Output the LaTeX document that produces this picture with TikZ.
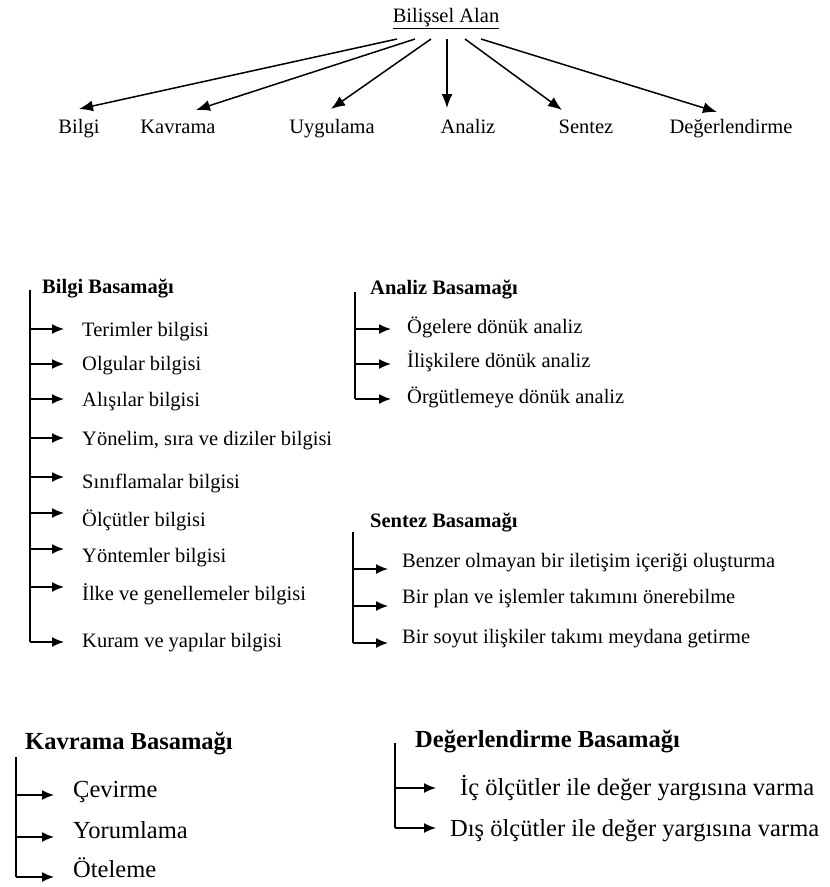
\documentclass[tikz,border=0pt]{standalone}
\usepackage{fontspec}
\setmainfont{Liberation Serif}
\usetikzlibrary{arrows.meta}
\begin{document}
\begin{tikzpicture}[x=1pt,y=-1pt,
  arr/.style={-{Latex[length=12pt,width=10pt]}, line width=1.4pt},
  tarr/.style={-{Latex[length=14pt,width=11pt]}, line width=1.5pt},
  ln/.style={line width=1.4pt},
  txt/.style={inner sep=0pt, font=\fontsize{20.5}{24}\selectfont},
  hdr/.style={inner sep=0pt, font=\fontsize{20.5}{24}\selectfont\bfseries},
  btxt/.style={inner sep=0pt, font=\fontsize{24.5}{28}\selectfont},
  bhdr/.style={inner sep=0pt, font=\fontsize{24.5}{28}\selectfont\bfseries},
]
\useasboundingbox[fill=white] (0,0) rectangle (830,887);

% ---------- top tree ----------
\node[txt, anchor=base] (root) at (446,22) {\underline{Bilişsel Alan}};
\foreach \n/\sx/\hx/\hy/\lx/\t in {1/397/79/109/79/Bilgi, 2/415/196/110/178/Kavrama, 3/431/331/109/332/Uygulama, 4/447/447/108/468/Analiz, 5/465/562/110/586/Sentez, 6/481/717/112/731/Değerlendirme}{
  \coordinate (s\n) at (\sx,39);
  \coordinate (h\n) at (\hx,\hy);
  \node[txt, anchor=base] (c\n) at (\lx,133) {\t};
  \draw[tarr] (s\n) -- (h\n);
}

% ---------- Bilgi Basamagi ----------
\node[hdr, anchor=base west] (bh) at (42,293) {Bilgi Basamağı};
\coordinate (btop) at (30,290);
\coordinate (bbot) at (30,642);
\draw[ln] (btop) -- (bbot);
\foreach \n/\ay/\by/\t in {1/329/336/Terimler bilgisi, 2/364/370/Olgular bilgisi, 3/399/406/Alışılar bilgisi, 4/438/445/{Yönelim, sıra ve diziler bilgisi}, 5/477/488/Sınıflamalar bilgisi, 6/513/526/Ölçütler bilgisi, 7/549/562/Yöntemler bilgisi, 8/587/600/İlke ve genellemeler bilgisi, 9/642/647/Kuram ve yapılar bilgisi}{
  \coordinate (ba\n) at (30,\ay);
  \coordinate (bt\n) at (64,\ay);
  \node[txt, anchor=base west] (bx\n) at (82,\by) {\t};
  \draw[arr] (ba\n) -- (bt\n);
}

% ---------- Analiz Basamagi ----------
\node[hdr, anchor=base west] (ah) at (370,294) {Analiz Basamağı};
\coordinate (atop) at (355,292);
\coordinate (abot) at (355,399);
\draw[ln] (atop) -- (abot);
\foreach \n/\ay/\by/\t in {1/329/333/Ögelere dönük analiz, 2/364/367/İlişkilere dönük analiz, 3/399/403/Örgütlemeye dönük analiz}{
  \coordinate (aa\n) at (355,\ay);
  \coordinate (at\n) at (391,\ay);
  \node[txt, anchor=base west] (ax\n) at (407,\by) {\t};
  \draw[arr] (aa\n) -- (at\n);
}

% ---------- Sentez Basamagi ----------
\node[hdr, anchor=base west] (sh) at (370,527) {Sentez Basamağı};
\coordinate (stop) at (353,532);
\coordinate (sbot) at (353,643);
\draw[ln] (stop) -- (sbot);
\foreach \n/\ay/\by/\t in {1/569/567/Benzer olmayan bir iletişim içeriği oluşturma, 2/606/603/Bir plan ve işlemler takımını önerebilme, 3/643/643/Bir soyut ilişkiler takımı meydana getirme}{
  \coordinate (sa\n) at (353,\ay);
  \coordinate (st\n) at (388,\ay);
  \node[txt, anchor=base west] (sx\n) at (402,\by) {\t};
  \draw[arr] (sa\n) -- (st\n);
}

% ---------- Kavrama Basamagi ----------
\node[bhdr, anchor=base west] (kh) at (25,749) {Kavrama Basamağı};
\coordinate (ktop) at (16,757);
\coordinate (kbot) at (16,877);
\draw[ln] (ktop) -- (kbot);
\foreach \n/\ay/\by/\t in {1/795/797/Çevirme, 2/837/838/Yorumlama, 3/877/877/Öteleme}{
  \coordinate (ka\n) at (16,\ay);
  \coordinate (kt\n) at (54,\ay);
  \node[btxt, anchor=base west] (kx\n) at (73,\by) {\t};
  \draw[arr] (ka\n) -- (kt\n);
}

% ---------- Degerlendirme Basamagi ----------
\node[bhdr, anchor=base west] (dh) at (415,747) {Değerlendirme Basamağı};
\coordinate (dtop) at (395,743);
\coordinate (dbot) at (395,828);
\draw[ln] (dtop) -- (dbot);
\foreach \n/\ay/\by/\tx/\t in {1/788/795/460/İç ölçütler ile değer yargısına varma, 2/828/836/450/Dış ölçütler ile değer yargısına varma}{
  \coordinate (da\n) at (395,\ay);
  \coordinate (dt\n) at (436,\ay);
  \node[btxt, anchor=base west] (dx\n) at (\tx,\by) {\t};
  \draw[arr] (da\n) -- (dt\n);
}
\end{tikzpicture}
\end{document}
